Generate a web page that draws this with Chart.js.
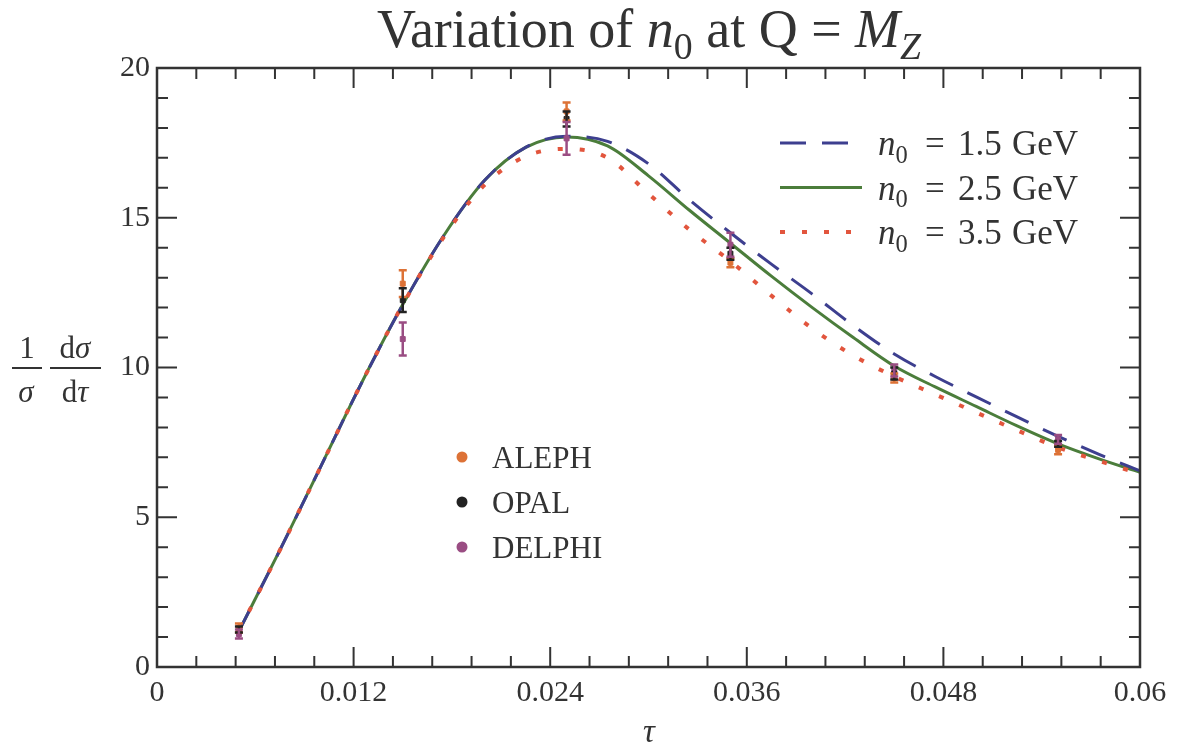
<!DOCTYPE html>
<html>
<head>
<meta charset="utf-8">
<script src="https://cdn.jsdelivr.net/npm/chart.js@4"></script>
<style>
  html, body { margin: 0; padding: 0; background: #fff; }
  #wrap { width: 1181px; height: 754px; }
</style>
</head>
<body>
<div id="wrap"><canvas id="tauChart" width="1181" height="754"></canvas></div>
<script>
// curves: 1/sigma dsigma/dtau for three values of n0
const tauGrid = [0.005, 0.0075, 0.01, 0.0125, 0.015, 0.0175, 0.02, 0.0225, 0.025, 0.0275, 0.03, 0.0325,
                 0.035, 0.0375, 0.04, 0.0425, 0.045, 0.0475, 0.05, 0.0525, 0.055, 0.0575, 0.06];
const curveN15 = [1.2, 3.9, 6.7, 9.5, 12.1, 14.4, 16.25, 17.35, 17.72, 17.55, 16.8, 15.6,
                  14.5, 13.45, 12.45, 11.4, 10.45, 9.7, 9.02, 8.35, 7.7, 7.1, 6.55];
const curveN25 = [1.2, 3.9, 6.7, 9.5, 12.1, 14.4, 16.25, 17.35, 17.7, 17.4, 16.4, 15.25,
                  14.15, 13.05, 12.0, 11.0, 10.05, 9.35, 8.7, 8.05, 7.45, 6.95, 6.5];
const curveN35 = [1.2, 3.9, 6.7, 9.5, 12.1, 14.35, 16.1, 17.05, 17.3, 17.0, 15.8, 14.6,
                  13.55, 12.4, 11.3, 10.4, 9.7, 9.1, 8.5, 7.9, 7.33, 6.88, 6.45];
const curveLabels = ['1.5', '2.5', '3.5'];

// measurements (bin centres)
const binTau = [0.005, 0.015, 0.025, 0.035, 0.045, 0.055];
const alephVals = [1.3, 12.8, 18.55, 13.5, 9.65, 7.25];
const alephErr = [0.15, 0.45, 0.3, 0.15, 0.15, 0.15];
const opalVals = [1.25, 12.25, 18.3, 13.8, 9.8, 7.45];
const opalErr = [0.1, 0.4, 0.25, 0.2, 0.2, 0.1];
const delphiVals = [1.1, 10.95, 17.65, 14.1, 9.9, 7.6];
const delphiErr = [0.15, 0.55, 0.55, 0.4, 0.2, 0.15];
const expNames = ['ALEPH', 'OPAL', 'DELPHI'];

const xTickLabels = ['0', '0.012', '0.024', '0.036', '0.048', '0.06'];
const yTickLabels = ['0', '5', '10', '15', '20'];

const SERIF = "'Liberation Serif', 'DejaVu Serif', serif";
const INK = '#333';
const colDash = '#3d3f8f';
const colSolid = '#4b7d3b';
const colDot = '#e2553d';
const colAleph = '#dd7236';
const colOpal = '#222222';
const colDelphi = '#9a4d83';

function pts(xs, ys) {
    return xs.map((x, i) => ({ x: x, y: ys[i] }));
}

// frame with inward ticks on all four sides
const frameTicks = {
    id: 'frameTicks',
    afterDraw(chart) {
        const ctx = chart.ctx;
        const a = chart.chartArea;
        const xs = chart.scales.x, ys = chart.scales.y;
        ctx.save();
        ctx.strokeStyle = INK;
        ctx.lineWidth = 2.5;
        ctx.strokeRect(a.left, a.top, a.right - a.left, a.bottom - a.top);
        ctx.lineWidth = 2;
        ctx.beginPath();
        for (let i = 0; i <= 25; i++) {
            const px = xs.getPixelForValue(i * 0.0024);
            const len = i % 5 === 0 ? 20 : 11;
            ctx.moveTo(px, a.bottom); ctx.lineTo(px, a.bottom - len);
            ctx.moveTo(px, a.top); ctx.lineTo(px, a.top + len);
        }
        for (let j = 0; j <= 20; j++) {
            const py = ys.getPixelForValue(j);
            const len = j % 5 === 0 ? 20 : 11;
            ctx.moveTo(a.left, py); ctx.lineTo(a.left + len, py);
            ctx.moveTo(a.right, py); ctx.lineTo(a.right - len, py);
        }
        ctx.stroke();
        ctx.restore();
    }
};

// vertical error bars with caps
const errorBars = {
    id: 'errorBars',
    afterDatasetsDraw(chart) {
        const ctx = chart.ctx;
        const xs = chart.scales.x, ys = chart.scales.y;
        const sets = [[alephVals, alephErr, colAleph], [opalVals, opalErr, colOpal], [delphiVals, delphiErr, colDelphi]];
        ctx.save();
        ctx.lineWidth = 2.5;
        sets.forEach(s => {
            ctx.strokeStyle = s[2];
            binTau.forEach((t, i) => {
                const px = xs.getPixelForValue(t);
                const hi = ys.getPixelForValue(s[0][i] + s[1][i]);
                const lo = ys.getPixelForValue(s[0][i] - s[1][i]);
                ctx.beginPath();
                ctx.moveTo(px, hi); ctx.lineTo(px, lo);
                ctx.moveTo(px - 4, hi); ctx.lineTo(px + 4, hi);
                ctx.moveTo(px - 4, lo); ctx.lineTo(px + 4, lo);
                ctx.stroke();
            });
        });
        ctx.restore();
    }
};

// draws pieces of text with mixed styles, returns width
function runs(ctx, parts, x, y, size, measureOnly) {
    let cx = x;
    parts.forEach(p => {
        const fs = p.sub ? size * 0.7 : size;
        ctx.font = (p.it ? 'italic ' : '') + fs + 'px ' + SERIF;
        if (!measureOnly) ctx.fillText(p.t, cx, y + (p.sub ? size * 0.22 : 0));
        cx += ctx.measureText(p.t).width;
    });
    return cx - x;
}

const annotations = {
    id: 'annotations',
    afterDraw(chart) {
        const ctx = chart.ctx;
        ctx.save();
        ctx.fillStyle = INK;
        ctx.textBaseline = 'alphabetic';
        ctx.textAlign = 'left';

        // title
        const title = [{ t: 'Variation of ' }, { t: 'n', it: true }, { t: '0', sub: true }, { t: ' at Q = ' },
                       { t: 'M', it: true }, { t: 'Z', it: true, sub: true }];
        const tw = runs(ctx, title, 0, 0, 54, true);
        runs(ctx, title, 649 - tw / 2, 47, 54, false);

        // y axis label: 1/sigma dsigma/dtau
        ctx.textAlign = 'center';
        ctx.font = '31px ' + SERIF;
        ctx.fillText('1', 27, 358);
        ctx.font = 'italic 31px ' + SERIF;
        ctx.fillText('\u03c3', 26, 402);
        ctx.textAlign = 'left';
        const dSig = [{ t: 'd' }, { t: '\u03c3', it: true }];
        const dTau = [{ t: 'd' }, { t: '\u03c4', it: true }];
        const w1 = runs(ctx, dSig, 0, 0, 31, true);
        runs(ctx, dSig, 75 - w1 / 2, 358, 31, false);
        const w2 = runs(ctx, dTau, 0, 0, 31, true);
        runs(ctx, dTau, 75 - w2 / 2, 402, 31, false);
        ctx.strokeStyle = INK;
        ctx.lineWidth = 2;
        ctx.beginPath();
        ctx.moveTo(12, 368); ctx.lineTo(42, 368);
        ctx.moveTo(50, 368); ctx.lineTo(101, 368);
        ctx.stroke();

        // x axis label
        ctx.textAlign = 'center';
        ctx.font = 'italic 33px ' + SERIF;
        ctx.fillText('\u03c4', 649, 742);

        // legend for curves
        ctx.textAlign = 'left';
        const lineStyles = [[colDash, [26, 16], 3], [colSolid, [], 3], [colDot, [5, 17], 4]];
        lineStyles.forEach((ls, i) => {
            const y = 143 + i * 44.5;
            ctx.strokeStyle = ls[0];
            ctx.lineWidth = ls[2];
            ctx.setLineDash(ls[1]);
            ctx.beginPath();
            ctx.moveTo(780, y);
            ctx.lineTo(862, y);
            ctx.stroke();
            ctx.setLineDash([]);
            ctx.fillStyle = INK;
            runs(ctx, [{ t: 'n', it: true }, { t: '0', sub: true }], 878, y + 12, 35, false);
            ctx.font = '35px ' + SERIF;
            ctx.fillText('=', 925, y + 12);
            ctx.fillText(curveLabels[i], 958, y + 12);
            ctx.fillText('GeV', 1012, y + 12);
        });

        // legend for measurements
        const dotCols = [colAleph, colOpal, colDelphi];
        expNames.forEach((name, i) => {
            const y = 457 + i * 45;
            ctx.fillStyle = dotCols[i];
            ctx.beginPath();
            ctx.arc(462, y, 5.5, 0, Math.PI * 2);
            ctx.fill();
            ctx.fillStyle = INK;
            ctx.font = '31px ' + SERIF;
            ctx.fillText(name, 492, y + 11);
        });
        ctx.restore();
    }
};

new Chart(document.getElementById('tauChart').getContext('2d'), {
    type: 'scatter',
    data: {
        datasets: [
            { label: 'ALEPH', data: pts(binTau, alephVals), backgroundColor: colAleph, borderColor: colAleph,
              pointStyle: 'rect', pointRadius: 3.5, showLine: false },
            { label: 'OPAL', data: pts(binTau, opalVals), backgroundColor: colOpal, borderColor: colOpal,
              pointStyle: 'rect', pointRadius: 3.5, showLine: false },
            { label: 'DELPHI', data: pts(binTau, delphiVals), backgroundColor: colDelphi, borderColor: colDelphi,
              pointStyle: 'rect', pointRadius: 3.5, showLine: false },
            { label: 'n0 = 3.5 GeV', data: pts(tauGrid, curveN35), borderColor: colDot, borderWidth: 4,
              borderDash: [5, 17], showLine: true, pointRadius: 0, cubicInterpolationMode: 'monotone' },
            { label: 'n0 = 1.5 GeV', data: pts(tauGrid, curveN15), borderColor: colDash, borderWidth: 3,
              borderDash: [26, 16], showLine: true, pointRadius: 0, cubicInterpolationMode: 'monotone' },
            { label: 'n0 = 2.5 GeV', data: pts(tauGrid, curveN25), borderColor: colSolid, borderWidth: 3,
              showLine: true, pointRadius: 0, cubicInterpolationMode: 'monotone' }
        ]
    },
    options: {
        responsive: false,
        animation: false,
        layout: { padding: { left: 0, top: 68, right: 41, bottom: 0 } },
        plugins: {
            legend: { display: false },
            tooltip: { enabled: false },
            title: { display: false }
        },
        scales: {
            x: {
                type: 'linear',
                min: 0,
                max: 0.06,
                grid: { display: false, drawTicks: false },
                border: { display: false },
                afterFit: s => { s.height = 87; },
                ticks: {
                    stepSize: 0.012,
                    padding: 8,
                    color: INK,
                    maxRotation: 0,
                    font: { family: SERIF, size: 30 },
                    callback: v => xTickLabels[Math.round(v / 0.012)]
                }
            },
            y: {
                min: 0,
                max: 20,
                grid: { display: false, drawTicks: false },
                border: { display: false },
                afterFit: s => { s.width = 157; },
                ticks: {
                    stepSize: 5,
                    padding: 7,
                    color: INK,
                    font: { family: SERIF, size: 30 },
                    callback: v => yTickLabels[Math.round(v / 5)]
                }
            }
        }
    },
    plugins: [frameTicks, errorBars, annotations]
});
</script>
</body>
</html>
